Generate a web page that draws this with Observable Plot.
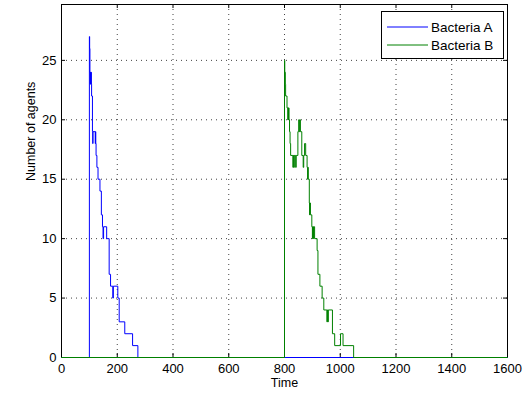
<!DOCTYPE html>
<html>
<head>
<meta charset="utf-8">
<script src="https://cdn.jsdelivr.net/npm/d3@7"></script>
<script src="https://cdn.jsdelivr.net/npm/@observablehq/plot@0.6"></script>
<style>
  html, body { margin: 0; padding: 0; background: #fff; }
  #wrap { position: relative; width: 523px; height: 394px; font-family: "Liberation Sans", Arial, sans-serif; }
  #legend { position: absolute; left: 381px; top: 11px; width: 121px; height: 46px; border: 1px solid #000; background: #fff; font-size: 13.5px; }
  #legend .row { position: absolute; left: 0; height: 18px; display: flex; align-items: center; }
  #legend svg { display: block; margin-left: 5px; margin-right: 3px; }
</style>
</head>
<body>
<div id="wrap"></div>
<script>
// Bacteria A: change times and agent counts (step data)
const timeA  = [0,100,101,102,103,104,105,106,107,108,111,112,113,121,122,123,124,127,131,138,143,147,149,151,162,171,176,184,186,202,207,227,255,274,1600];
const countA = [0, 27, 26, 24, 23, 24, 23, 24, 23, 22, 19, 18, 19, 18, 19, 18, 17, 16, 15, 14, 12, 11, 10, 11, 10,  7,  6,  5,  6,  5,  3,  2,  1,  0,   0];
// Bacteria B
const timeB  = [0,800,801,803,804,809,812,813,814,815,816,818,820,822,830,832,834,835,840,842,848,851,853,855,857,862,867,869,872,876,881,883,884,885,889,890,891,893,898,900,901,904,905,908,917,920,927,935,941,952,954,956,957,972,980,1001,1010,1048,1600];
const countB = [0, 25, 24, 23, 22, 21, 20, 21, 20, 21, 20, 19, 18, 17, 16, 17, 16, 17, 16, 17, 19, 20, 19, 20, 19, 17, 16, 17, 18, 17, 16, 15, 16, 15, 13, 12, 13, 12, 11, 10, 11, 10, 11, 10,  9,  7,  6,  5,  4,  3,  4,  3,  4,  2,  1,   2,   1,   0,   0];
const seriesNames = ["Bacteria A", "Bacteria B"];
const seriesColors = ["#0000ff", "#008000"];
const xTicks = [0,200,400,600,800,1000,1200,1400,1600];
const yTicks = [0,5,10,15,20,25];
const xLabel = "Time";
const yLabel = "Number of agents";

const dataA = timeA.map((t, i) => ({t, n: countA[i]}));
const dataB = timeB.map((t, i) => ({t, n: countB[i]}));

const W = 523, H = 394, mL = 61, mR = 16, mT = 4, mB = 37;
const plotW = W - mL - mR, plotH = H - mT - mB, tickLen = 4;
const grid = {stroke: "#000", strokeOpacity: 0.75, strokeDasharray: "1,4", strokeWidth: 1};

const chart = Plot.plot({
  width: W, height: H,
  marginLeft: mL, marginRight: mR, marginTop: mT, marginBottom: mB,
  x: {domain: [0, 1600], label: null},
  y: {domain: [0, 29.7], label: null},
  style: {fontFamily: "'Liberation Sans', Arial, sans-serif", fontSize: "13px", color: "#000", background: "#fff", overflow: "visible"},
  marks: [
    Plot.gridX(xTicks, grid),
    Plot.gridY(yTicks, grid),
    Plot.frame({stroke: "#000", strokeWidth: 1}),
    Plot.tickX(xTicks, {x: d => d, stroke: "#000", insetTop: plotH - tickLen}),
    Plot.tickX(xTicks, {x: d => d, stroke: "#000", insetBottom: plotH - tickLen}),
    Plot.tickY(yTicks, {y: d => d, stroke: "#000", insetRight: plotW - tickLen}),
    Plot.tickY(yTicks, {y: d => d, stroke: "#000", insetLeft: plotW - tickLen}),
    Plot.line(dataA, {x: "t", y: "n", curve: "step-after", stroke: seriesColors[0], strokeWidth: 1}),
    Plot.line(dataB, {x: "t", y: "n", curve: "step-after", stroke: seriesColors[1], strokeWidth: 1}),
    Plot.axisX(xTicks, {tickSize: 0, tickPadding: 6, label: null, fontSize: 13, tickFormat: d => String(d)}),
    Plot.axisY(yTicks, {tickSize: 0, tickPadding: 5, label: null, fontSize: 13, tickFormat: d => String(d)}),
    Plot.text([xLabel], {frameAnchor: "bottom", dy: 29, fontSize: 12.5}),
    Plot.text([yLabel], {frameAnchor: "left", dx: -31, rotate: -90, fontSize: 12.5})
  ]
});

const wrap = document.getElementById("wrap");
wrap.appendChild(chart);

const legend = document.createElement("div");
legend.id = "legend";
seriesNames.forEach((name, i) => {
  const row = document.createElement("div");
  row.className = "row";
  row.style.top = (6 + i * 18) + "px";
  row.innerHTML = `<svg width="41" height="4"><line x1="0" y1="2" x2="41" y2="2" stroke="${seriesColors[i]}" stroke-width="1"/></svg><span>${name}</span>`;
  legend.appendChild(row);
});
wrap.appendChild(legend);
</script>
</body>
</html>
